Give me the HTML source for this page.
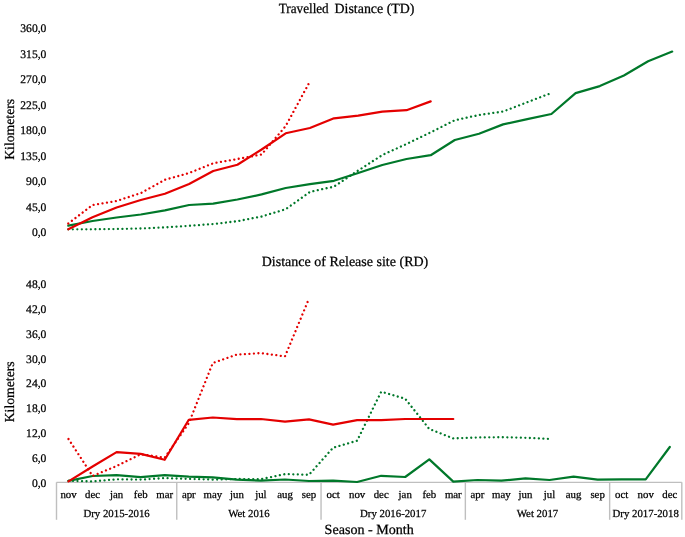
<!DOCTYPE html>
<html><head><meta charset="utf-8"><style>
html,body{margin:0;padding:0;background:#fff;}
body{width:685px;height:537px;overflow:hidden;}
svg{display:block;font-family:'Liberation Serif', serif;will-change:transform;}
text{fill:#000;text-rendering:geometricPrecision;}
.b{stroke:#000;stroke-width:0.25px;}
text{stroke:#000;stroke-width:0.25px;}
</style></head><body>
<svg width="685" height="537" viewBox="0 0 685 537">
<text x="278.8" y="12.8" text-anchor="start" font-size="14" textLength="49.9" lengthAdjust="spacingAndGlyphs" >Travelled</text>
<text x="334.5" y="12.8" text-anchor="start" font-size="14" textLength="80.0" lengthAdjust="spacingAndGlyphs" >Distance (TD)</text>
<text x="261.7" y="266.3" text-anchor="start" font-size="14" textLength="166.6" lengthAdjust="spacingAndGlyphs" >Distance of Release site (RD)</text>
<text x="324.6" y="534.1" text-anchor="start" font-size="14" textLength="89.2" lengthAdjust="spacingAndGlyphs" >Season - Month</text>
<text transform="translate(13.8,129.3) rotate(-90)" text-anchor="middle" font-size="13.7" textLength="61" lengthAdjust="spacingAndGlyphs">Kilometers</text>
<text transform="translate(13.8,391.8) rotate(-90)" text-anchor="middle" font-size="13.7" textLength="61" lengthAdjust="spacingAndGlyphs">Kilometers</text>
<text x="46.4" y="235.9" text-anchor="end" font-size="11.6">0,0</text>
<text x="46.4" y="210.5" text-anchor="end" font-size="11.6">45,0</text>
<text x="46.4" y="185.0" text-anchor="end" font-size="11.6">90,0</text>
<text x="46.4" y="159.6" text-anchor="end" font-size="11.6">135,0</text>
<text x="46.4" y="134.1" text-anchor="end" font-size="11.6">180,0</text>
<text x="46.4" y="108.7" text-anchor="end" font-size="11.6">225,0</text>
<text x="46.4" y="83.2" text-anchor="end" font-size="11.6">270,0</text>
<text x="46.4" y="57.8" text-anchor="end" font-size="11.6">315,0</text>
<text x="46.4" y="32.3" text-anchor="end" font-size="11.6">360,0</text>
<text x="46.4" y="486.6" text-anchor="end" font-size="11.6">0,0</text>
<text x="46.4" y="461.8" text-anchor="end" font-size="11.6">6,0</text>
<text x="46.4" y="437.0" text-anchor="end" font-size="11.6">12,0</text>
<text x="46.4" y="412.2" text-anchor="end" font-size="11.6">18,0</text>
<text x="46.4" y="387.4" text-anchor="end" font-size="11.6">24,0</text>
<text x="46.4" y="362.6" text-anchor="end" font-size="11.6">30,0</text>
<text x="46.4" y="337.8" text-anchor="end" font-size="11.6">36,0</text>
<text x="46.4" y="313.0" text-anchor="end" font-size="11.6">42,0</text>
<text x="46.4" y="288.2" text-anchor="end" font-size="11.6">48,0</text>
<line x1="56.5" y1="482.3" x2="681.8" y2="482.3" stroke="#BFBFBF" stroke-width="1.3"/>
<line x1="56.50" y1="482.3" x2="56.50" y2="519.8" stroke="#BFBFBF" stroke-width="1.4"/>
<line x1="176.75" y1="482.3" x2="176.75" y2="519.8" stroke="#BFBFBF" stroke-width="1.4"/>
<line x1="321.05" y1="482.3" x2="321.05" y2="519.8" stroke="#BFBFBF" stroke-width="1.4"/>
<line x1="465.35" y1="482.3" x2="465.35" y2="519.8" stroke="#BFBFBF" stroke-width="1.4"/>
<line x1="609.65" y1="482.3" x2="609.65" y2="519.8" stroke="#BFBFBF" stroke-width="1.4"/>
<line x1="681.80" y1="482.3" x2="681.80" y2="519.8" stroke="#BFBFBF" stroke-width="1.4"/>
<text x="68.5" y="498.2" text-anchor="middle" font-size="10.8" class="b">nov</text>
<text x="92.6" y="498.2" text-anchor="middle" font-size="10.8" class="b">dec</text>
<text x="116.6" y="498.2" text-anchor="middle" font-size="10.8" class="b">jan</text>
<text x="140.7" y="498.2" text-anchor="middle" font-size="10.8" class="b">feb</text>
<text x="164.7" y="498.2" text-anchor="middle" font-size="10.8" class="b">mar</text>
<text x="188.8" y="498.2" text-anchor="middle" font-size="10.8" class="b">apr</text>
<text x="212.8" y="498.2" text-anchor="middle" font-size="10.8" class="b">may</text>
<text x="236.9" y="498.2" text-anchor="middle" font-size="10.8" class="b">jun</text>
<text x="260.9" y="498.2" text-anchor="middle" font-size="10.8" class="b">jul</text>
<text x="285.0" y="498.2" text-anchor="middle" font-size="10.8" class="b">aug</text>
<text x="309.0" y="498.2" text-anchor="middle" font-size="10.8" class="b">sep</text>
<text x="333.1" y="498.2" text-anchor="middle" font-size="10.8" class="b">oct</text>
<text x="357.1" y="498.2" text-anchor="middle" font-size="10.8" class="b">nov</text>
<text x="381.2" y="498.2" text-anchor="middle" font-size="10.8" class="b">dec</text>
<text x="405.2" y="498.2" text-anchor="middle" font-size="10.8" class="b">jan</text>
<text x="429.3" y="498.2" text-anchor="middle" font-size="10.8" class="b">feb</text>
<text x="453.3" y="498.2" text-anchor="middle" font-size="10.8" class="b">mar</text>
<text x="477.4" y="498.2" text-anchor="middle" font-size="10.8" class="b">apr</text>
<text x="501.4" y="498.2" text-anchor="middle" font-size="10.8" class="b">may</text>
<text x="525.5" y="498.2" text-anchor="middle" font-size="10.8" class="b">jun</text>
<text x="549.5" y="498.2" text-anchor="middle" font-size="10.8" class="b">jul</text>
<text x="573.6" y="498.2" text-anchor="middle" font-size="10.8" class="b">aug</text>
<text x="597.6" y="498.2" text-anchor="middle" font-size="10.8" class="b">sep</text>
<text x="621.7" y="498.2" text-anchor="middle" font-size="10.8" class="b">oct</text>
<text x="645.7" y="498.2" text-anchor="middle" font-size="10.8" class="b">nov</text>
<text x="669.8" y="498.2" text-anchor="middle" font-size="10.8" class="b">dec</text>
<text x="116.6" y="517" text-anchor="middle" font-size="10.8" class="b">Dry 2015-2016</text>
<text x="248.9" y="517" text-anchor="middle" font-size="10.8" class="b">Wet 2016</text>
<text x="393.2" y="517" text-anchor="middle" font-size="10.8" class="b">Dry 2016-2017</text>
<text x="537.5" y="517" text-anchor="middle" font-size="10.8" class="b">Wet 2017</text>
<text x="645.7" y="517" text-anchor="middle" font-size="10.8" class="b">Dry 2017-2018</text>
<polyline points="68.3,229.3 92.5,229.3 116.6,229.0 140.8,228.5 164.9,227.4 189.1,225.8 213.2,224.0 237.4,221.2 261.6,216.5 285.7,209.2 309.9,191.9 334.0,186.6 358.2,170.5 382.3,155.0 406.5,144.0 430.7,132.3 454.8,120.2 479.0,115.0 503.1,111.5 527.3,102.2 551.4,93.0" fill="none" stroke="#00782A" stroke-width="2.3" stroke-linecap="round" stroke-dasharray="0.01 4.5" stroke-linejoin="round"/>
<polyline points="68.3,225.7 92.5,221.0 116.6,217.5 140.8,214.5 164.9,210.4 189.1,205.0 213.2,203.6 237.4,199.5 261.6,194.4 285.7,188.0 309.9,184.2 334.0,180.8 358.2,173.0 382.3,165.0 406.5,159.0 430.7,155.2 454.8,140.0 479.0,133.7 503.1,124.4 527.3,119.2 551.4,114.0 575.6,93.1 599.8,86.1 623.9,75.5 648.1,61.3 672.2,51.6" fill="none" stroke="#00782A" stroke-width="2.2" stroke-linecap="round" stroke-linejoin="round"/>
<polyline points="68.3,223.5 92.5,205.0 116.6,201.0 140.8,193.1 164.9,179.8 189.1,173.0 213.2,163.3 237.4,159.0 261.6,154.5 285.7,126.0 309.9,81.5" fill="none" stroke="#E40000" stroke-width="2.3" stroke-linecap="round" stroke-dasharray="0.01 4.5" stroke-linejoin="round"/>
<polyline points="68.3,229.3 92.5,217.2 116.6,207.5 140.8,200.0 164.9,193.8 189.1,184.0 213.2,171.0 237.4,164.7 261.6,149.5 285.7,133.3 309.9,128.0 334.0,118.3 358.2,115.7 382.3,111.6 406.5,110.2 430.7,101.4" fill="none" stroke="#E40000" stroke-width="2.2" stroke-linecap="round" stroke-linejoin="round"/>
<polyline points="68.5,480.8 92.6,481.4 116.6,479.3 140.7,479.6 164.7,478.1 188.8,478.9 212.8,479.6 236.9,479.0 260.9,479.2 285.0,474.1 309.0,474.8 333.1,447.7 357.1,440.7 381.2,391.7 405.2,398.7 429.3,429.0 453.3,438.4 477.4,437.5 501.4,437.2 525.5,437.8 549.5,438.9" fill="none" stroke="#00782A" stroke-width="2.3" stroke-linecap="round" stroke-dasharray="0.01 4.5" stroke-linejoin="round"/>
<polyline points="68.5,480.8 92.6,476.0 116.6,475.2 140.7,477.2 164.7,475.2 188.8,476.7 212.8,477.4 236.9,479.6 260.9,480.7 285.0,479.5 309.0,481.0 333.1,480.6 357.1,482.0 381.2,475.8 405.2,477.0 429.3,459.4 453.3,481.6 477.4,480.0 501.4,480.7 525.5,478.3 549.5,480.0 573.6,476.7 597.6,479.6 621.7,479.3 645.7,479.3 669.8,447.0" fill="none" stroke="#00782A" stroke-width="2.2" stroke-linecap="round" stroke-linejoin="round"/>
<polyline points="68.5,439.0 92.6,476.0 116.6,466.0 140.7,454.2 164.7,457.6 188.8,423.2 212.8,363.0 236.9,354.6 260.9,353.1 285.0,356.4 309.0,298.6" fill="none" stroke="#E40000" stroke-width="2.3" stroke-linecap="round" stroke-dasharray="0.01 4.5" stroke-linejoin="round"/>
<polyline points="68.5,481.4 92.6,466.5 116.6,452.1 140.7,453.9 164.7,459.8 188.8,419.8 212.8,417.5 236.9,419.2 260.9,419.0 285.0,421.7 309.0,419.4 333.1,424.6 357.1,420.2 381.2,420.2 405.2,419.0 429.3,419.0 453.3,419.0" fill="none" stroke="#E40000" stroke-width="2.2" stroke-linecap="round" stroke-linejoin="round"/>
</svg>
</body></html>
